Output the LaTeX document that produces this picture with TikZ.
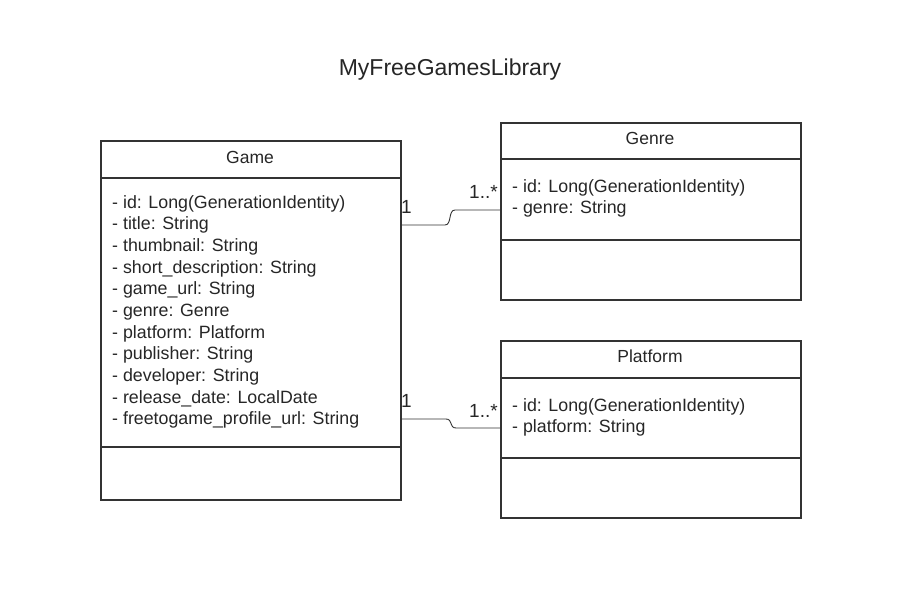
\documentclass[tikz,border=0pt]{standalone}
\usepackage{fontspec}
\setmainfont{Liberation Sans}
\newcommand{\firststrut}{\rule{0pt}{14pt}}
\begin{document}
\begin{tikzpicture}[x=1pt,y=-1pt,
  box/.style={draw=black!80, line width=1.6pt, anchor=north west, inner sep=0pt},
  divline/.style={draw=black!80, line width=1.6pt},
  conn/.style={draw=black!80, line width=0.9pt},
  hdr/.style={font=\fontsize{17.5}{20}\selectfont, text=black!85},
  attrs/.style={font=\fontsize{17.8}{21.65}\selectfont, text=black!85, align=left, anchor=north west, inner sep=0pt},
  mult/.style={font=\fontsize{19}{22}\selectfont, text=black!85, inner sep=0pt, anchor=base west}]
\useasboundingbox (0,0) rectangle (900,599);
\node[font=\fontsize{23}{26}\selectfont, text=black!85, anchor=base] (title) at (450,76) {MyFreeGamesLibrary};
% Game
\node[box, minimum width=300pt, minimum height=359pt] (game) at (100,140) {};
\draw[divline] (100,178) -- (400,178);
\draw[divline] (100,447) -- (400,447);
\node[hdr] (gameh) at (250,157) {Game};
\node[attrs] (gamea) at (112,194) {\firststrut- id: Long(GenerationIdentity)\\- title: String\\- thumbnail: String\\- short\_description: String\\- game\_url: String\\- genre: Genre\\- platform: Platform\\- publisher: String\\- developer: String\\- release\_date: LocalDate\\- freetogame\_profile\_url: String};
% Genre
\node[box, minimum width=300pt, minimum height=177pt] (genre) at (500,122) {};
\draw[divline] (500,159) -- (800,159);
\draw[divline] (500,240) -- (800,240);
\node[hdr] (genreh) at (650,138) {Genre};
\node[attrs] (genrea) at (512,178) {\firststrut- id: Long(GenerationIdentity)\\- genre: String};
% Platform
\node[box, minimum width=300pt, minimum height=177pt] (plat) at (500,340) {};
\draw[divline] (500,378) -- (800,378);
\draw[divline] (500,458) -- (800,458);
\node[hdr] (plath) at (650,356) {Platform};
\node[attrs] (plata) at (512,397) {\firststrut- id: Long(GenerationIdentity)\\- platform: String};
% connectors
\coordinate (c1a) at (400,225);
\coordinate (c1b) at (500,210);
\coordinate (c2a) at (400,419);
\coordinate (c2b) at (500,428);
\draw[conn] (c1a) -- (445,225) .. controls (452,225) and (448,210) .. (455,210) -- (c1b);
\draw[conn] (c2a) -- (446,419) .. controls (453,419) and (449,428) .. (456,428) -- (c2b);
\node[mult] (m1a) at (401,213) {1};
\node[mult] (m1b) at (469,198) {1..*};
\node[mult] (m2a) at (401,407) {1};
\node[mult] (m2b) at (469,417) {1..*};
\end{tikzpicture}
\end{document}
